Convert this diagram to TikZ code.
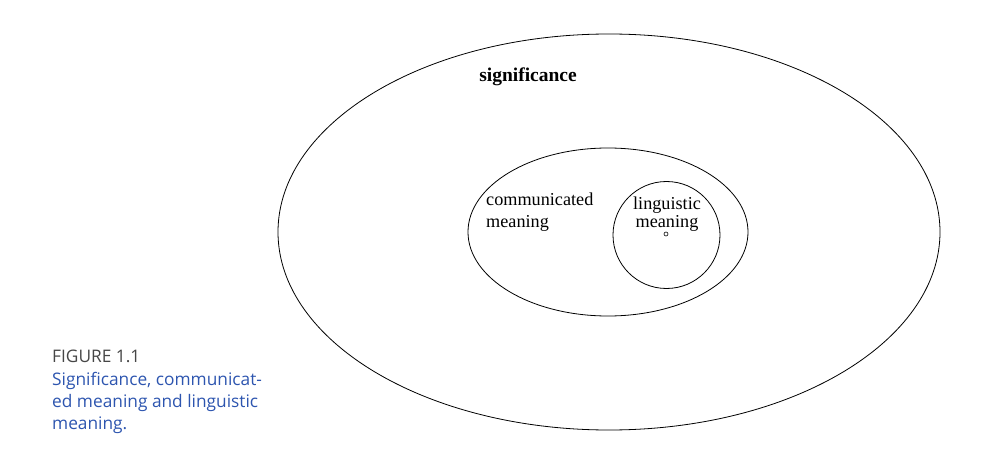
\documentclass[tikz,border=0pt]{standalone}
\usepackage{fontspec}
\setmainfont{Liberation Serif}
\newfontfamily\capfont{Open Sans}
\definecolor{capblue}{RGB}{45,85,175}
\definecolor{capgray}{RGB}{70,70,70}
\begin{document}
\begin{tikzpicture}[x=1pt,y=-1pt,
  ring/.style={draw=black,line width=0.8pt},
  lbl/.style={font=\fontsize{18.2}{20}\selectfont,inner sep=0pt},
  caption/.style={font=\capfont\fontsize{17.3}{20}\selectfont,inner sep=0pt,anchor=base west}]
\useasboundingbox (0,0) rectangle (986,476);
\draw[ring] (609,232) ellipse [x radius=331,y radius=198];
\draw[ring] (608,232) ellipse [x radius=140,y radius=84];
\draw[ring] (666.5,235) circle [radius=53.5];
\draw[ring,line width=0.6pt] (666,234) circle [radius=2];
\node[lbl,anchor=base,font=\bfseries\fontsize{19.5}{21}\selectfont] (sig) at (528,82) {significance};
\node[lbl,anchor=base west] (comm1) at (486,205) {communicated};
\node[lbl,anchor=base west] (comm2) at (486,227) {meaning};
\node[lbl,anchor=base] (ling1) at (667,210) {linguistic};
\node[lbl,anchor=base] (ling2) at (667,227) {meaning};
\node[caption,text=capgray] (cap1) at (52,362) {FIGURE 1.1};
\node[caption,text=capblue] (cap2) at (52,385) {Significance, communicat-};
\node[caption,text=capblue] (cap3) at (52,407) {ed meaning and linguistic};
\node[caption,text=capblue] (cap4) at (52,429) {meaning.};
\end{tikzpicture}
\end{document}
